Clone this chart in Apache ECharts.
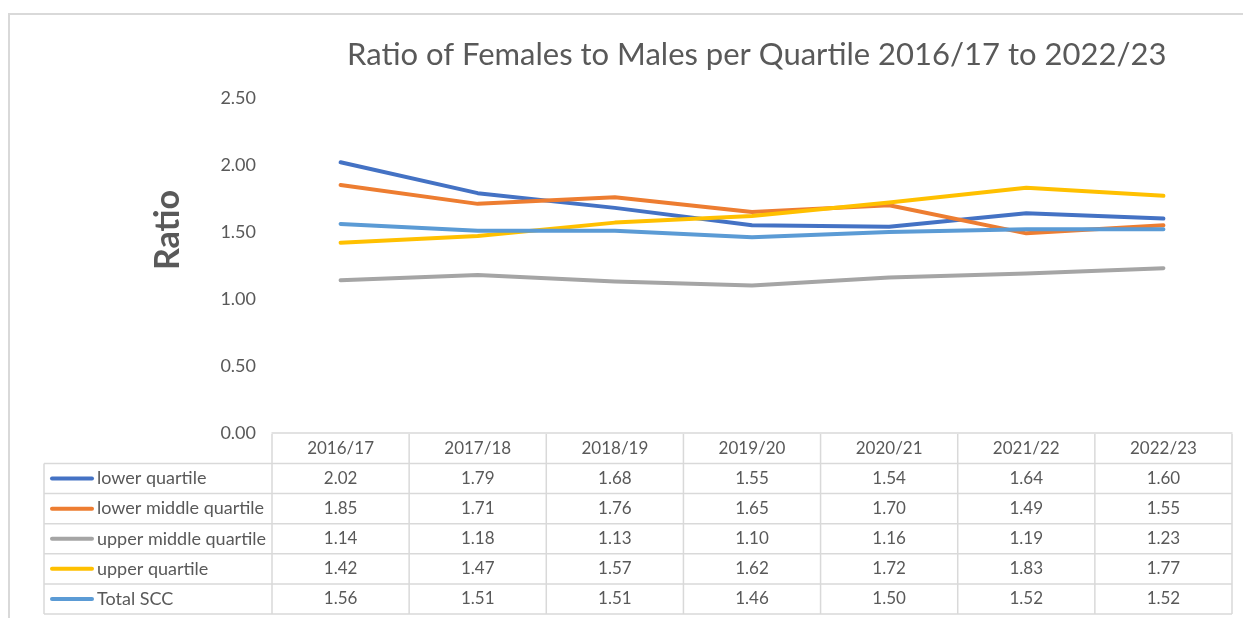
<!DOCTYPE html>
<html><head><meta charset="utf-8">
<script src="https://cdn.jsdelivr.net/npm/echarts@6/dist/echarts.min.js"></script>
<style>html,body{margin:0;padding:0;background:#fff}#c{width:1243px;height:618px}</style>
</head><body><div id="c"></div>
<script>
var categories = ['2016/17','2017/18','2018/19','2019/20','2020/21','2021/22','2022/23'];
var seriesNames = ['lower quartile','lower middle quartile','upper middle quartile','upper quartile','Total SCC'];
var lowerQuartile = [2.02,1.79,1.68,1.55,1.54,1.64,1.60];
var lowerMiddle = [1.85,1.71,1.76,1.65,1.70,1.49,1.55];
var upperMiddle = [1.14,1.18,1.13,1.10,1.16,1.19,1.23];
var upperQuartile = [1.42,1.47,1.57,1.62,1.72,1.83,1.77];
var totalSCC = [1.56,1.51,1.51,1.46,1.50,1.52,1.52];
var colors = ['#4472C4','#ED7D31','#A5A5A5','#FFC000','#5B9BD5'];
var yTicks = [0,0.5,1,1.5,2,2.5];

(function(){
var allData = [lowerQuartile,lowerMiddle,upperMiddle,upperQuartile,totalSCC];
var FONT = 'Lato';
var TXT = '#595959';
var BORDER = '#D9D9D9';
var G = {left:272, right:11, top:98, bottom:185};
var W = 1243, H = 618;
var rowH = 30.3;
var tableLeft = 44;
var FS = 17;

var chart = echarts.init(document.getElementById('c'), null, {renderer:'canvas'});
var option = {
  backgroundColor:'#fff',
  animation:false,
  textStyle:{fontFamily:FONT},
  title:{text:'Ratio of Females to Males per Quartile 2016/17 to 2022/23', left:342, top:34,
    textStyle:{fontFamily:FONT, fontWeight:'normal', fontSize:31, color:TXT}},
  grid:{left:G.left, right:G.right, top:G.top, bottom:G.bottom, containLabel:false},
  xAxis:{type:'category', data:categories, boundaryGap:true,
    axisLine:{show:true, lineStyle:{color:BORDER, width:1.5}},
    axisTick:{show:false},
    axisLabel:{show:true, margin:7, fontFamily:FONT, fontSize:FS, color:TXT, verticalAlign:'top'},
    splitLine:{show:false}},
  yAxis:{type:'value', min:yTicks[0], max:yTicks[yTicks.length-1], interval:yTicks[1]-yTicks[0],
    axisLine:{show:false}, axisTick:{show:false}, splitLine:{show:false},
    axisLabel:{margin:16, fontFamily:FONT, fontSize:18, color:TXT, formatter:function(v){return v.toFixed(2);}}},
  series: allData.map(function(d,i){
    return {name:seriesNames[i], type:'line', data:d, symbol:'none', smooth:false,
      lineStyle:{color:colors[i], width:4, cap:'round', join:'round'}, itemStyle:{color:colors[i]}, z:2+i};
  })
};
chart.setOption(option);

var yZero = chart.convertToPixel({yAxisIndex:0}, 0);
var x0 = G.left, x1 = W - G.right;
var colW = (x1 - x0) / categories.length;
var tTop = yZero + 1;
var headerBottom = tTop + 29.5;
rowH = (614 - headerBottom) / seriesNames.length;
var els = [];
function line(xa,ya,xb,yb){ els.push({type:'line', shape:{x1:xa,y1:ya,x2:xb,y2:yb}, style:{stroke:BORDER, lineWidth:1.5}, silent:true}); }
for (var c=0;c<=categories.length;c++){ var xx = x0 + c*colW; line(xx, tTop, xx, headerBottom + rowH*seriesNames.length); }
line(tableLeft, headerBottom, tableLeft, headerBottom + rowH*seriesNames.length);
for (var r=0;r<=seriesNames.length;r++){ var yy = headerBottom + r*rowH; line(tableLeft, yy, x1, yy); }
allData.forEach(function(d,i){
  var cy = headerBottom + (i+0.5)*rowH;
  els.push({type:'line', shape:{x1:52,y1:cy,x2:92,y2:cy}, style:{stroke:colors[i], lineWidth:4, lineCap:'round'}, silent:true});
  els.push({type:'text', x:97, y:cy, style:{text:seriesNames[i], fill:TXT, font:'18px '+FONT, textAlign:'left', textVerticalAlign:'middle'}, silent:true});
  d.forEach(function(v,j){
    var cx = chart.convertToPixel({xAxisIndex:0}, categories[j]);
    els.push({type:'text', x:cx, y:cy, style:{text:v.toFixed(2), fill:TXT, font:FS+'px '+FONT, textAlign:'center', textVerticalAlign:'middle'}, silent:true});
  });
});
els.push({type:'text', x:168, y:230, rotation:Math.PI/2, style:{text:'Ratio', fill:TXT, font:'bold 34px '+FONT, textAlign:'center', textVerticalAlign:'middle'}, silent:true});
els.push({type:'polyline', shape:{points:[[9,H+2],[9,14],[W+2,14]]}, style:{stroke:BORDER, lineWidth:2, fill:null}, silent:true});
chart.setOption({graphic:{elements:els}});
})();
</script></body></html>
